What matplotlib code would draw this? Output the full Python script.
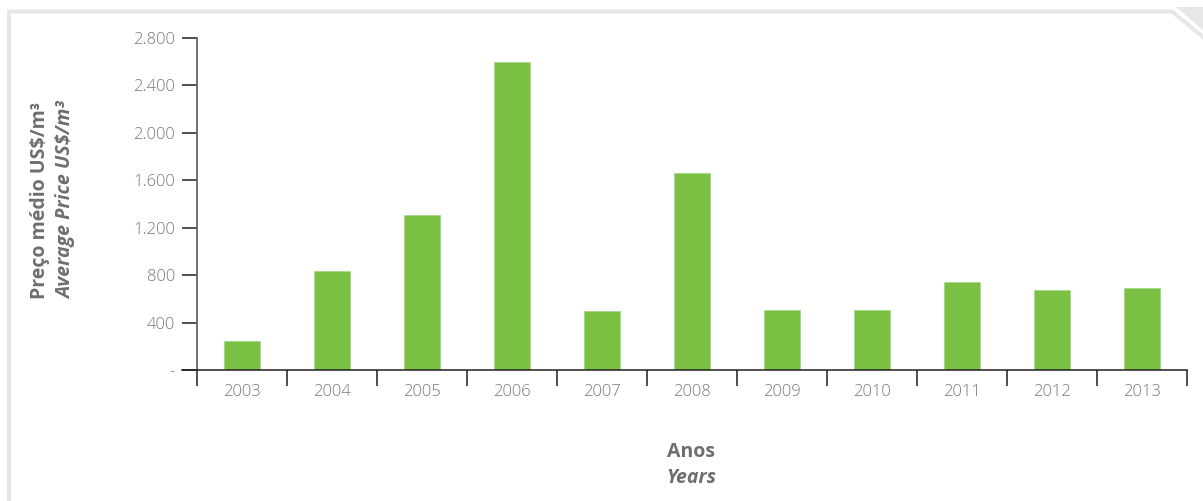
import matplotlib
matplotlib.use("Agg")
import matplotlib.pyplot as plt
from matplotlib.patches import Polygon
from matplotlib.ticker import FuncFormatter

years = ["2003", "2004", "2005", "2006", "2007", "2008", "2009", "2010", "2011", "2012", "2013"]
prices = [245, 838, 1308, 2600, 495, 1663, 504, 504, 738, 676, 692]
yticks = [0, 400, 800, 1200, 1600, 2000, 2400, 2800]

green = "#7ac143"
gray_text = "#6d6e71"
frame_gray = "#e6e7e8"
font = ["Open Sans", "DejaVu Sans"]

W, H = 1203, 501
fig = plt.figure(figsize=(W / 100, H / 100), dpi=100)

# background frame drawn in pixel coordinates
bg = fig.add_axes([0, 0, 1, 1], zorder=-1)
bg.set_xlim(0, W)
bg.set_ylim(H, 0)
bg.axis("off")
bg.plot([9, 9, 1172, 1203], [H, 11.5, 11.5, 37], color=frame_gray, lw=3, solid_joinstyle="miter")
bg.add_patch(Polygon([[1176, 7], [1203, 7], [1203, 30]], closed=True, color=frame_gray, lw=0))

ax = fig.add_axes([197 / W, 1 - 370 / H, 990 / W, 332 / H])
x = list(range(len(years)))
ax.bar(x, prices, width=0.41, color=green, edgecolor="#a6d98a", linewidth=0.6, zorder=2)

ax.set_xlim(-0.5, len(years) - 0.5)
ax.set_ylim(0, 2800)

for s in ["top", "right"]:
    ax.spines[s].set_visible(False)
ax.spines["left"].set_color("#58595b")
ax.spines["left"].set_linewidth(1.2)
ax.spines["bottom"].set_color("#231f20")
ax.spines["bottom"].set_linewidth(1.1)
# extend the x axis line left to match the y ticks
ax.plot([-0.5 - 15 / 90, -0.5], [0, 0], color="#231f20", lw=1.1, clip_on=False)

ax.set_yticks(yticks)
ax.yaxis.set_major_formatter(FuncFormatter(lambda v, p: "-" if v == 0 else f"{int(v):,}".replace(",", ".")))
ax.tick_params(axis="y", direction="out", length=10.8, width=1.1, color="#231f20",
               labelsize=12, labelcolor="#77787b", pad=5)

# boundaries get the ticks, centres get the labels
ax.set_xticks([i - 0.5 for i in range(len(years) + 1)])
ax.set_xticklabels([])
ax.set_xticks(x, minor=True)
ax.set_xticklabels(years, minor=True)
ax.tick_params(axis="x", which="major", direction="out", length=11.5, width=1.1, color="#231f20")
ax.tick_params(axis="x", which="minor", length=0, labelsize=12, labelcolor="#77787b", pad=10)

for lab in ax.get_xticklabels(minor=True) + ax.get_yticklabels():
    lab.set_family(font)
    lab.set_fontweight("light")

fig.text(40 / W, 1 - 200 / H, "Preço médio US$/m³", rotation=90, ha="center", va="center",
         fontsize=14, fontweight="bold", color=gray_text, family=font)
fig.text(66 / W, 1 - 200 / H, "Average Price US$/m³", rotation=90, ha="center", va="center",
         fontsize=14, fontweight="bold", style="italic", color=gray_text, family=font)
fig.text(691 / W, 1 - 452 / H, "Anos", ha="center", va="center",
         fontsize=14, fontweight="bold", color=gray_text, family=font)
fig.text(691 / W, 1 - 478 / H, "Years", ha="center", va="center",
         fontsize=14, fontweight="bold", style="italic", color=gray_text, family=font)

fig.savefig("out.png", dpi=100)
